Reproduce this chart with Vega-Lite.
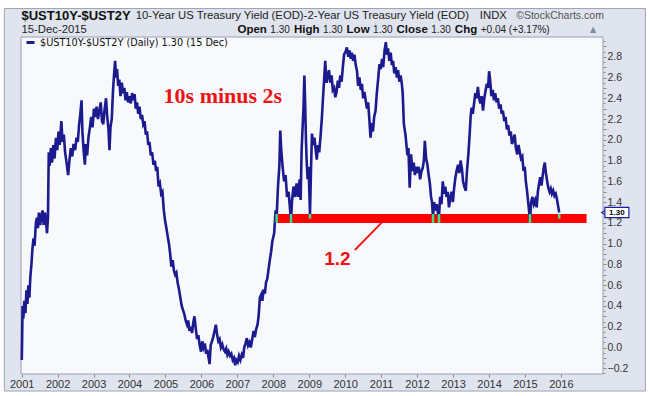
{
  "$schema": "https://vega.github.io/schema/vega-lite/v6.json",
  "width": 582,
  "height": 337,
  "autosize": {"type": "none"},
  "padding": {"left": 21, "top": 37, "right": 47, "bottom": 22},
  "background": "#ffffff",
  "config": {
    "view": {"fill": null, "stroke": null},
    "font": "Liberation Sans",
    "axis": {"labelFont": "Liberation Sans", "labelColor": "#333333", "tickColor": "#8a8a8a", "domain": false, "grid": false, "title": null}
  },
  "datasets": {
    "frame": [{"date": "2000-07-09", "date2": "2018-05-09", "value": 3.264, "value2": -0.419}],
    "plotArea": [{"date": "2000-12-25", "date2": "2017-03-04", "value": -0.255, "value2": 2.99}],
    "spread": [
      {"date":"2001-01-02","value":-0.12},{"date":"2001-01-05","value":0.05},{"date":"2001-01-10","value":0.40},{"date":"2001-01-18","value":0.28},{"date":"2001-01-28","value":0.45},{"date":"2001-02-08","value":0.33},{"date":"2001-02-18","value":0.55},{"date":"2001-02-28","value":0.42},{"date":"2001-03-10","value":0.60},{"date":"2001-03-20","value":0.48},{"date":"2001-03-30","value":0.68},{"date":"2001-04-10","value":0.80},{"date":"2001-04-20","value":0.95},{"date":"2001-05-01","value":1.05},{"date":"2001-05-12","value":0.98},{"date":"2001-05-25","value":1.20},{"date":"2001-06-05","value":1.25},{"date":"2001-06-15","value":1.15},{"date":"2001-06-25","value":1.30},{"date":"2001-07-08","value":1.18},{"date":"2001-07-20","value":1.27},{"date":"2001-08-01","value":1.32},{"date":"2001-08-12","value":1.18},{"date":"2001-08-25","value":1.30},{"date":"2001-09-05","value":1.22},{"date":"2001-09-15","value":1.10},{"date":"2001-09-25","value":1.25},{"date":"2001-10-03","value":1.88},{"date":"2001-10-12","value":1.75},{"date":"2001-10-25","value":1.92},{"date":"2001-11-05","value":1.78},{"date":"2001-11-18","value":1.95},{"date":"2001-12-01","value":1.82},{"date":"2001-12-15","value":2.02},{"date":"2001-12-28","value":1.90},
      {"date":"2002-01-10","value":2.08},{"date":"2002-01-22","value":1.95},{"date":"2002-02-08","value":2.18},{"date":"2002-02-20","value":1.98},{"date":"2002-03-05","value":2.05},{"date":"2002-03-18","value":1.88},{"date":"2002-04-02","value":1.78},{"date":"2002-04-18","value":1.66},{"date":"2002-05-01","value":1.80},{"date":"2002-05-15","value":1.92},{"date":"2002-05-30","value":1.84},{"date":"2002-06-12","value":1.96},{"date":"2002-06-28","value":1.90},{"date":"2002-07-12","value":2.02},{"date":"2002-07-25","value":1.98},{"date":"2002-08-08","value":2.15},{"date":"2002-08-20","value":2.25},{"date":"2002-09-01","value":2.38},{"date":"2002-09-10","value":2.08},{"date":"2002-09-22","value":1.90},{"date":"2002-10-05","value":1.76},{"date":"2002-10-15","value":1.96},{"date":"2002-10-28","value":1.85},{"date":"2002-11-10","value":2.02},{"date":"2002-11-25","value":2.12},{"date":"2002-12-08","value":2.22},{"date":"2002-12-22","value":2.12},
      {"date":"2003-01-05","value":2.30},{"date":"2003-01-18","value":2.22},{"date":"2003-02-01","value":2.32},{"date":"2003-02-15","value":2.20},{"date":"2003-03-01","value":2.28},{"date":"2003-03-15","value":2.36},{"date":"2003-03-28","value":2.18},{"date":"2003-04-10","value":2.15},{"date":"2003-04-22","value":2.28},{"date":"2003-05-08","value":2.40},{"date":"2003-05-20","value":2.22},{"date":"2003-06-02","value":2.10},{"date":"2003-06-12","value":1.90},{"date":"2003-06-22","value":2.12},{"date":"2003-07-05","value":2.20},{"date":"2003-07-18","value":2.48},{"date":"2003-07-28","value":2.62},{"date":"2003-08-08","value":2.76},{"date":"2003-08-18","value":2.60},{"date":"2003-08-28","value":2.68},{"date":"2003-09-08","value":2.52},{"date":"2003-09-20","value":2.58},{"date":"2003-10-02","value":2.42},{"date":"2003-10-15","value":2.55},{"date":"2003-10-28","value":2.45},{"date":"2003-11-10","value":2.50},{"date":"2003-11-22","value":2.38},{"date":"2003-12-05","value":2.46},{"date":"2003-12-18","value":2.36},
      {"date":"2004-01-02","value":2.42},{"date":"2004-01-15","value":2.35},{"date":"2004-01-28","value":2.45},{"date":"2004-02-10","value":2.38},{"date":"2004-02-22","value":2.44},{"date":"2004-03-05","value":2.30},{"date":"2004-03-18","value":2.36},{"date":"2004-03-30","value":2.25},{"date":"2004-04-12","value":2.32},{"date":"2004-04-25","value":2.20},{"date":"2004-05-08","value":2.24},{"date":"2004-05-20","value":2.15},{"date":"2004-06-02","value":2.18},{"date":"2004-06-15","value":2.05},{"date":"2004-06-28","value":2.08},{"date":"2004-07-10","value":1.95},{"date":"2004-07-22","value":1.98},{"date":"2004-08-05","value":1.85},{"date":"2004-08-18","value":1.88},{"date":"2004-09-01","value":1.76},{"date":"2004-09-15","value":1.80},{"date":"2004-09-28","value":1.70},{"date":"2004-10-10","value":1.74},{"date":"2004-10-22","value":1.55},{"date":"2004-11-05","value":1.58},{"date":"2004-11-18","value":1.48},{"date":"2004-12-01","value":1.50},{"date":"2004-12-15","value":1.32},{"date":"2004-12-28","value":1.22},
      {"date":"2005-01-10","value":1.15},{"date":"2005-01-22","value":1.08},{"date":"2005-02-05","value":1.00},{"date":"2005-02-18","value":0.90},{"date":"2005-03-02","value":0.78},{"date":"2005-03-15","value":0.84},{"date":"2005-03-28","value":0.74},{"date":"2005-04-10","value":0.70},{"date":"2005-04-22","value":0.72},{"date":"2005-05-05","value":0.62},{"date":"2005-05-18","value":0.56},{"date":"2005-06-01","value":0.48},{"date":"2005-06-15","value":0.40},{"date":"2005-06-28","value":0.36},{"date":"2005-07-12","value":0.32},{"date":"2005-07-25","value":0.26},{"date":"2005-08-08","value":0.22},{"date":"2005-08-20","value":0.26},{"date":"2005-09-02","value":0.16},{"date":"2005-09-15","value":0.20},{"date":"2005-09-28","value":0.14},{"date":"2005-10-10","value":0.24},{"date":"2005-10-22","value":0.30},{"date":"2005-11-05","value":0.18},{"date":"2005-11-18","value":0.08},{"date":"2005-12-01","value":0.12},{"date":"2005-12-15","value":0.02},{"date":"2005-12-28","value":-0.04},
      {"date":"2006-01-10","value":0.06},{"date":"2006-01-22","value":0.00},{"date":"2006-02-05","value":0.04},{"date":"2006-02-18","value":-0.06},{"date":"2006-03-02","value":-0.02},{"date":"2006-03-15","value":-0.10},{"date":"2006-03-25","value":-0.16},{"date":"2006-04-05","value":0.02},{"date":"2006-04-18","value":0.06},{"date":"2006-05-01","value":0.10},{"date":"2006-05-15","value":0.16},{"date":"2006-05-28","value":0.22},{"date":"2006-06-10","value":0.12},{"date":"2006-06-22","value":0.06},{"date":"2006-07-05","value":0.08},{"date":"2006-07-18","value":0.00},{"date":"2006-08-01","value":0.03},{"date":"2006-08-15","value":-0.02},{"date":"2006-08-28","value":-0.04},{"date":"2006-09-10","value":-0.01},{"date":"2006-09-22","value":-0.07},{"date":"2006-10-05","value":-0.04},{"date":"2006-10-18","value":-0.08},{"date":"2006-11-01","value":-0.06},{"date":"2006-11-15","value":-0.12},{"date":"2006-11-28","value":-0.10},{"date":"2006-12-10","value":-0.17},{"date":"2006-12-22","value":-0.12},
      {"date":"2007-01-05","value":-0.14},{"date":"2007-01-18","value":-0.08},{"date":"2007-02-01","value":-0.12},{"date":"2007-02-15","value":-0.07},{"date":"2007-02-28","value":-0.10},{"date":"2007-03-12","value":0.00},{"date":"2007-03-25","value":0.04},{"date":"2007-04-08","value":0.09},{"date":"2007-04-20","value":0.02},{"date":"2007-05-05","value":0.05},{"date":"2007-05-18","value":0.00},{"date":"2007-06-01","value":0.08},{"date":"2007-06-15","value":0.16},{"date":"2007-06-28","value":0.10},{"date":"2007-07-12","value":0.18},{"date":"2007-07-25","value":0.22},{"date":"2007-08-05","value":0.30},{"date":"2007-08-18","value":0.48},{"date":"2007-09-01","value":0.51},{"date":"2007-09-12","value":0.45},{"date":"2007-09-25","value":0.56},{"date":"2007-10-08","value":0.52},{"date":"2007-10-20","value":0.63},{"date":"2007-11-01","value":0.66},{"date":"2007-11-15","value":0.76},{"date":"2007-11-28","value":0.85},{"date":"2007-12-10","value":0.92},{"date":"2007-12-22","value":1.02},
      {"date":"2008-01-10","value":1.10},{"date":"2008-01-25","value":1.32},{"date":"2008-02-04","value":1.25},{"date":"2008-02-18","value":1.55},{"date":"2008-03-03","value":1.75},{"date":"2008-03-12","value":2.09},{"date":"2008-03-22","value":1.90},{"date":"2008-04-05","value":1.74},{"date":"2008-04-20","value":1.60},{"date":"2008-05-05","value":1.66},{"date":"2008-05-20","value":1.45},{"date":"2008-06-05","value":1.50},{"date":"2008-06-18","value":1.35},{"date":"2008-06-29","value":1.22},{"date":"2008-07-10","value":1.42},{"date":"2008-07-25","value":1.55},{"date":"2008-08-10","value":1.45},{"date":"2008-08-25","value":1.58},{"date":"2008-09-10","value":1.45},{"date":"2008-09-25","value":1.62},{"date":"2008-10-05","value":1.42},{"date":"2008-10-15","value":1.90},{"date":"2008-10-25","value":2.12},{"date":"2008-11-03","value":2.30},{"date":"2008-11-12","value":2.62},{"date":"2008-11-20","value":2.35},{"date":"2008-11-28","value":2.00},{"date":"2008-12-06","value":1.78},{"date":"2008-12-15","value":1.62},{"date":"2008-12-25","value":1.74},
      {"date":"2009-01-08","value":1.28},{"date":"2009-01-18","value":1.70},{"date":"2009-01-28","value":2.06},{"date":"2009-02-10","value":1.95},{"date":"2009-02-22","value":2.02},{"date":"2009-03-05","value":1.92},{"date":"2009-03-18","value":1.81},{"date":"2009-03-30","value":1.95},{"date":"2009-04-12","value":1.88},{"date":"2009-04-25","value":2.03},{"date":"2009-05-08","value":2.20},{"date":"2009-05-20","value":2.40},{"date":"2009-06-02","value":2.60},{"date":"2009-06-12","value":2.76},{"date":"2009-06-25","value":2.55},{"date":"2009-07-08","value":2.62},{"date":"2009-07-20","value":2.67},{"date":"2009-08-02","value":2.55},{"date":"2009-08-15","value":2.62},{"date":"2009-08-28","value":2.48},{"date":"2009-09-10","value":2.50},{"date":"2009-09-22","value":2.41},{"date":"2009-10-05","value":2.46},{"date":"2009-10-18","value":2.57},{"date":"2009-10-30","value":2.50},{"date":"2009-11-12","value":2.62},{"date":"2009-11-25","value":2.56},{"date":"2009-12-08","value":2.70},{"date":"2009-12-20","value":2.82},
      {"date":"2010-01-05","value":2.85},{"date":"2010-01-18","value":2.89},{"date":"2010-02-01","value":2.80},{"date":"2010-02-14","value":2.86},{"date":"2010-02-26","value":2.78},{"date":"2010-03-10","value":2.84},{"date":"2010-03-22","value":2.76},{"date":"2010-04-05","value":2.82},{"date":"2010-04-18","value":2.72},{"date":"2010-05-01","value":2.66},{"date":"2010-05-12","value":2.52},{"date":"2010-05-25","value":2.60},{"date":"2010-06-08","value":2.48},{"date":"2010-06-20","value":2.54},{"date":"2010-07-02","value":2.40},{"date":"2010-07-15","value":2.46},{"date":"2010-07-28","value":2.38},{"date":"2010-08-10","value":2.30},{"date":"2010-08-22","value":2.36},{"date":"2010-09-03","value":2.20},{"date":"2010-09-15","value":2.02},{"date":"2010-09-28","value":2.16},{"date":"2010-10-10","value":2.08},{"date":"2010-10-22","value":2.22},{"date":"2010-11-05","value":2.28},{"date":"2010-11-18","value":2.45},{"date":"2010-12-01","value":2.58},{"date":"2010-12-15","value":2.73},{"date":"2010-12-28","value":2.68},
      {"date":"2011-01-10","value":2.78},{"date":"2011-01-22","value":2.70},{"date":"2011-02-05","value":2.86},{"date":"2011-02-18","value":2.94},{"date":"2011-03-01","value":2.82},{"date":"2011-03-12","value":2.88},{"date":"2011-03-25","value":2.76},{"date":"2011-04-08","value":2.84},{"date":"2011-04-20","value":2.72},{"date":"2011-05-02","value":2.76},{"date":"2011-05-15","value":2.64},{"date":"2011-05-28","value":2.70},{"date":"2011-06-10","value":2.60},{"date":"2011-06-22","value":2.67},{"date":"2011-07-05","value":2.56},{"date":"2011-07-18","value":2.62},{"date":"2011-07-30","value":2.54},{"date":"2011-08-08","value":2.45},{"date":"2011-08-20","value":2.15},{"date":"2011-09-05","value":2.05},{"date":"2011-09-25","value":1.85},{"date":"2011-10-05","value":1.92},{"date":"2011-10-18","value":1.54},{"date":"2011-11-01","value":1.86},{"date":"2011-11-14","value":1.70},{"date":"2011-11-28","value":1.78},{"date":"2011-12-10","value":1.66},{"date":"2011-12-22","value":1.74},
      {"date":"2012-01-05","value":1.68},{"date":"2012-01-18","value":1.74},{"date":"2012-02-01","value":1.62},{"date":"2012-02-15","value":1.70},{"date":"2012-02-28","value":1.73},{"date":"2012-03-10","value":1.80},{"date":"2012-03-20","value":1.99},{"date":"2012-04-02","value":1.82},{"date":"2012-04-15","value":1.76},{"date":"2012-04-28","value":1.66},{"date":"2012-05-10","value":1.58},{"date":"2012-05-22","value":1.45},{"date":"2012-06-01","value":1.40},{"date":"2012-06-11","value":1.25},{"date":"2012-06-22","value":1.40},{"date":"2012-07-05","value":1.32},{"date":"2012-07-18","value":1.38},{"date":"2012-07-30","value":1.30},{"date":"2012-08-11","value":1.26},{"date":"2012-08-22","value":1.45},{"date":"2012-09-05","value":1.38},{"date":"2012-09-18","value":1.60},{"date":"2012-10-01","value":1.48},{"date":"2012-10-14","value":1.55},{"date":"2012-10-26","value":1.45},{"date":"2012-11-08","value":1.50},{"date":"2012-11-20","value":1.35},{"date":"2012-12-03","value":1.44},{"date":"2012-12-17","value":1.50},{"date":"2012-12-30","value":1.40},
      {"date":"2013-01-10","value":1.52},{"date":"2013-01-22","value":1.62},{"date":"2013-02-05","value":1.70},{"date":"2013-02-20","value":1.76},{"date":"2013-03-05","value":1.68},{"date":"2013-03-18","value":1.80},{"date":"2013-04-01","value":1.72},{"date":"2013-04-12","value":1.60},{"date":"2013-04-25","value":1.55},{"date":"2013-05-10","value":1.51},{"date":"2013-05-22","value":1.70},{"date":"2013-06-05","value":1.86},{"date":"2013-06-18","value":2.05},{"date":"2013-06-28","value":2.22},{"date":"2013-07-08","value":2.31},{"date":"2013-07-20","value":2.25},{"date":"2013-08-02","value":2.35},{"date":"2013-08-15","value":2.45},{"date":"2013-08-28","value":2.40},{"date":"2013-09-10","value":2.51},{"date":"2013-09-22","value":2.40},{"date":"2013-10-05","value":2.35},{"date":"2013-10-18","value":2.42},{"date":"2013-11-01","value":2.28},{"date":"2013-11-14","value":2.40},{"date":"2013-11-28","value":2.48},{"date":"2013-12-10","value":2.54},{"date":"2013-12-22","value":2.50},
      {"date":"2014-01-02","value":2.66},{"date":"2014-01-12","value":2.58},{"date":"2014-01-25","value":2.42},{"date":"2014-02-08","value":2.48},{"date":"2014-02-20","value":2.38},{"date":"2014-03-05","value":2.45},{"date":"2014-03-18","value":2.36},{"date":"2014-04-01","value":2.40},{"date":"2014-04-14","value":2.30},{"date":"2014-04-28","value":2.34},{"date":"2014-05-10","value":2.25},{"date":"2014-05-22","value":2.28},{"date":"2014-06-05","value":2.18},{"date":"2014-06-18","value":2.22},{"date":"2014-07-01","value":2.10},{"date":"2014-07-14","value":2.14},{"date":"2014-07-28","value":2.04},{"date":"2014-08-10","value":2.08},{"date":"2014-08-22","value":1.96},{"date":"2014-09-05","value":2.00},{"date":"2014-09-18","value":2.05},{"date":"2014-10-01","value":1.92},{"date":"2014-10-15","value":1.86},{"date":"2014-10-28","value":1.95},{"date":"2014-11-10","value":1.88},{"date":"2014-11-22","value":1.82},{"date":"2014-12-05","value":1.84},{"date":"2014-12-18","value":1.70},{"date":"2014-12-30","value":1.74},
      {"date":"2015-01-10","value":1.60},{"date":"2015-01-22","value":1.51},{"date":"2015-02-05","value":1.38},{"date":"2015-02-21","value":1.22},{"date":"2015-03-05","value":1.40},{"date":"2015-03-18","value":1.45},{"date":"2015-04-01","value":1.38},{"date":"2015-04-15","value":1.42},{"date":"2015-04-30","value":1.35},{"date":"2015-05-12","value":1.50},{"date":"2015-05-25","value":1.58},{"date":"2015-06-05","value":1.64},{"date":"2015-06-18","value":1.56},{"date":"2015-07-01","value":1.66},{"date":"2015-07-12","value":1.74},{"date":"2015-07-22","value":1.78},{"date":"2015-08-02","value":1.68},{"date":"2015-08-15","value":1.60},{"date":"2015-08-26","value":1.54},{"date":"2015-09-08","value":1.50},{"date":"2015-09-20","value":1.53},{"date":"2015-10-02","value":1.48},{"date":"2015-10-15","value":1.51},{"date":"2015-10-28","value":1.46},{"date":"2015-11-10","value":1.48},{"date":"2015-11-20","value":1.44},{"date":"2015-12-01","value":1.38},{"date":"2015-12-08","value":1.34},{"date":"2015-12-15","value":1.30}
    ],
    "band": [{"date": "2008-02-04", "date2": "2016-09-18", "value": 1.2, "value2": 1.285}],
    "touches": [
      {"date": "2008-02-04", "value": 1.2, "value2": 1.285},
      {"date": "2008-06-29", "value": 1.2, "value2": 1.285},
      {"date": "2009-01-08", "value": 1.24, "value2": 1.285},
      {"date": "2012-06-11", "value": 1.2, "value2": 1.285},
      {"date": "2012-08-11", "value": 1.2, "value2": 1.285},
      {"date": "2015-02-21", "value": 1.2, "value2": 1.285},
      {"date": "2015-12-15", "value": 1.24, "value2": 1.285}
    ],
    "pointer": [{"date": "2010-04-09", "value": 0.939, "date2": "2011-01-06", "value2": 1.202}],
    "noteSerif": [{"date": "2006-08-07", "value": 2.42, "label": "10s minus 2s"}],
    "noteSans": [{"date": "2009-10-13", "value": 0.852, "label": "1.2"}],
    "hdrBoldBig": [{"date": "2000-12-30", "value": 3.19, "label": "$UST10Y-$UST2Y"}],
    "hdrTitle": [
      {"date": "2004-03-05", "value": 3.19, "label": "10-Year US Treasury Yield (EOD)-2-Year US Treasury Yield (EOD)"},
      {"date": "2013-09-30", "value": 3.19, "label": "INDX"},
      {"date": "2000-12-30", "value": 3.06, "label": "15-Dec-2015"}
    ],
    "hdrNumbers": [
      {"date": "2007-12-02", "value": 3.06, "label": "1.30"},
      {"date": "2009-05-21", "value": 3.06, "label": "1.30"},
      {"date": "2010-10-11", "value": 3.06, "label": "1.30"},
      {"date": "2012-05-25", "value": 3.06, "label": "1.30"},
      {"date": "2013-10-09", "value": 3.06, "label": "+0.04 (+3.17%)"}
    ],
    "hdrBold": [
      {"date": "2007-01-02", "value": 3.06, "label": "Open"},
      {"date": "2008-07-29", "value": 3.06, "label": "High"},
      {"date": "2010-01-15", "value": 3.06, "label": "Low"},
      {"date": "2011-06-06", "value": 3.06, "label": "Close"},
      {"date": "2013-01-19", "value": 3.06, "label": "Chg"}
    ],
    "hdrRight": [{"date": "2017-03-13", "value": 3.19, "label": "©StockCharts.com"}],
    "arrowUp": [{"date": "2016-10-22", "value": 3.06, "label": "▲"}],
    "lastBox": [{"date": "2017-03-23", "date2": "2017-11-22", "value": 1.25, "value2": 1.35}],
    "lastTip": [{"date": "2017-03-18", "value": 1.30}],
    "lastText": [{"date": "2017-07-23", "value": 1.30, "label": "1.30"}]
  },
  "encoding": {
    "x": {
      "field": "date", "type": "temporal",
      "scale": {"domain": [{"year": 2000, "month": 12, "date": 25}, {"year": 2017, "month": 3, "date": 4}], "nice": false},
      "axis": {
        "orient": "bottom", "format": "%Y", "zindex": 5,
        "values": [{"year":2001,"month":1,"date":1},{"year":2002,"month":1,"date":1},{"year":2003,"month":1,"date":1},{"year":2004,"month":1,"date":1},{"year":2005,"month":1,"date":1},{"year":2006,"month":1,"date":1},{"year":2007,"month":1,"date":1},{"year":2008,"month":1,"date":1},{"year":2009,"month":1,"date":1},{"year":2010,"month":1,"date":1},{"year":2011,"month":1,"date":1},{"year":2012,"month":1,"date":1},{"year":2013,"month":1,"date":1},{"year":2014,"month":1,"date":1},{"year":2015,"month":1,"date":1},{"year":2016,"month":1,"date":1}],
        "labelFontSize": 11, "tickSize": 3, "labelPadding": 1, "labelFlush": false, "labelOverlap": false
      }
    },
    "y": {
      "field": "value", "type": "quantitative",
      "scale": {"domain": [-0.255, 2.99], "nice": false, "zero": false},
      "axis": {
        "orient": "right", "zindex": 5,
        "values": [-0.25,-0.2,-0.15,-0.1,-0.05,0,0.05,0.1,0.15,0.2,0.25,0.3,0.35,0.4,0.45,0.5,0.55,0.6,0.65,0.7,0.75,0.8,0.85,0.9,0.95,1,1.05,1.1,1.15,1.2,1.4,1.45,1.5,1.55,1.6,1.65,1.7,1.75,1.8,1.85,1.9,1.95,2,2.05,2.1,2.15,2.2,2.25,2.3,2.35,2.4,2.45,2.5,2.55,2.6,2.65,2.7,2.75,2.8,2.85,2.9,2.95],
        "labelExpr": "abs(round(datum.value*100)) % 20 == 0 ? format(datum.value, '.1f') : ''",
        "labelFontSize": 10.5,
        "labelOverlap": false,
        "labelFlush": false,
        "tickSize": {"condition": {"test": "abs(round(datum.value*100)) % 10 == 0", "value": 3}, "value": 2},
        "labelPadding": 1
      }
    }
  },
  "layer": [
    {"data": {"name": "frame"}, "mark": {"type": "rect", "fill": "#dfe4ee", "stroke": "#9ba5b8", "strokeWidth": 1}, "encoding": {"x2": {"field": "date2"}, "y2": {"field": "value2"}}},
    {"data": {"name": "plotArea"}, "mark": {"type": "rect", "fill": "#f8f9fc", "stroke": "#98a0b0", "strokeWidth": 1}, "encoding": {"x2": {"field": "date2"}, "y2": {"field": "value2"}}},
    {"data": {"name": "band"}, "mark": {"type": "rect", "color": "#ff0000"}, "encoding": {"x2": {"field": "date2"}, "y2": {"field": "value2"}}},
    {
      "data": {"name": "spread"},
      "mark": {"type": "line", "strokeWidth": 2.6, "strokeJoin": "miter", "interpolate": "linear"},
      "encoding": {
        "color": {
          "datum": "$UST10Y-$UST2Y (Daily) 1.30 (15 Dec)",
          "scale": {"range": ["#1b1b8f"]},
          "legend": {"orient": "none", "legendX": 4, "legendY": 0, "title": null, "padding": 0, "symbolType": "stroke", "symbolSize": 64, "symbolStrokeWidth": 3, "labelFont": "DejaVu Sans", "labelFontSize": 9.7, "labelColor": "#111111", "labelOffset": 4, "labelLimit": 400}
        }
      }
    },
    {"data": {"name": "touches"}, "mark": {"type": "rule", "color": "#3fe27e", "strokeWidth": 2.5}, "encoding": {"y2": {"field": "value2"}}},
    {"data": {"name": "pointer"}, "mark": {"type": "rule", "color": "#ee1111", "strokeWidth": 1.8}, "encoding": {"x2": {"field": "date2"}, "y2": {"field": "value2"}}},
    {"data": {"name": "noteSerif"}, "mark": {"type": "text", "font": "Liberation Serif", "fontWeight": "bold", "fontSize": 22, "color": "#ee1111", "align": "center", "baseline": "middle"}, "encoding": {"text": {"field": "label"}}},
    {"data": {"name": "noteSans"}, "mark": {"type": "text", "font": "Liberation Sans", "fontWeight": "bold", "fontSize": 19, "color": "#ee1111", "align": "center", "baseline": "middle"}, "encoding": {"text": {"field": "label"}}},
    {"data": {"name": "hdrBoldBig"}, "mark": {"type": "text", "font": "Liberation Sans", "fontWeight": "bold", "fontSize": 13, "color": "#111111", "align": "left", "baseline": "middle"}, "encoding": {"text": {"field": "label"}}},
    {"data": {"name": "hdrTitle"}, "mark": {"type": "text", "font": "Liberation Sans", "fontSize": 11.3, "color": "#222222", "align": "left", "baseline": "middle"}, "encoding": {"text": {"field": "label"}}},
    {"data": {"name": "hdrNumbers"}, "mark": {"type": "text", "font": "Liberation Sans", "fontSize": 10, "color": "#222222", "align": "left", "baseline": "middle"}, "encoding": {"text": {"field": "label"}}},
    {"data": {"name": "hdrBold"}, "mark": {"type": "text", "font": "Liberation Sans", "fontWeight": "bold", "fontSize": 11.5, "color": "#111111", "align": "left", "baseline": "middle"}, "encoding": {"text": {"field": "label"}}},
    {"data": {"name": "hdrRight"}, "mark": {"type": "text", "font": "Liberation Sans", "fontSize": 10.5, "color": "#555555", "align": "right", "baseline": "middle"}, "encoding": {"text": {"field": "label"}}},
    {"data": {"name": "arrowUp"}, "mark": {"type": "text", "font": "DejaVu Sans", "fontSize": 8, "color": "#7d8aa8", "align": "left", "baseline": "middle"}, "encoding": {"text": {"field": "label"}}},
    {"data": {"name": "lastTip"}, "mark": {"type": "point", "shape": "triangle-left", "size": 40, "filled": true, "fill": "#ffffff", "stroke": "#1c1ca0", "strokeWidth": 1.2, "opacity": 1}},
    {"data": {"name": "lastBox"}, "mark": {"type": "rect", "fill": "#ffffff", "stroke": "#1c1ca0", "strokeWidth": 1.2}, "encoding": {"x2": {"field": "date2"}, "y2": {"field": "value2"}}},
    {"data": {"name": "lastText"}, "mark": {"type": "text", "font": "Liberation Sans", "fontWeight": "bold", "fontSize": 8, "color": "#000000", "align": "center", "baseline": "middle"}, "encoding": {"text": {"field": "label"}}}
  ]
}
